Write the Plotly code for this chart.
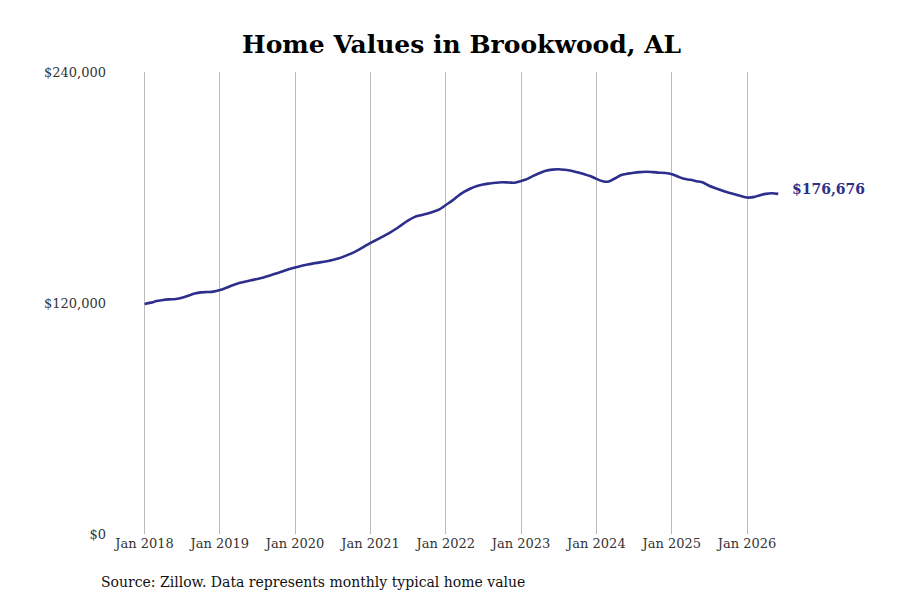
import plotly.graph_objects as go
import pandas as pd

# monthly typical home value, Jan 2018 .. Jun 2026
months = pd.date_range("2018-01-01", "2026-06-01", freq="MS")
values = [
    119500, 120200, 121000, 121600, 121900, 122100, 122700, 123800, 124900, 125500, 125700, 125900,
    126700, 127900, 129100, 130200, 131000, 131800, 132500, 133300, 134300, 135300, 136400, 137500,
    138500, 139300, 140000, 140600, 141100, 141700, 142300, 143200, 144500, 145800, 147500, 149300,
    151200, 152900, 154500, 156300, 158300, 160600, 162800, 164600, 165600, 166400, 167400, 168600,
    170900, 173200, 175600, 177800, 179500, 180800, 181600, 182100, 182500, 182700, 182600, 182500,
    183400, 184500, 186000, 187500, 188700, 189300, 189500, 189200, 188700, 187900, 187000, 186000,
    184500, 183300, 183100, 184800, 186500, 187200, 187700, 188000, 188200, 188000, 187700, 187500,
    186900, 185600, 184500, 184000, 183300, 182600, 180900, 179600, 178400, 177400, 176500, 175600,
    174800, 175000, 175900, 176700, 177000, 176676,
]
tick_dates = pd.date_range("2018-01-01", "2026-01-01", freq="YS")
tick_text = [d.strftime("Jan %Y") for d in tick_dates]
y_ticks = [0, 120000, 240000]
y_text = ["$0", "$120,000", "$240,000"]

line_color = "#2e2e8c"
font_family = "DejaVu Serif"

fig = go.Figure()
fig.add_trace(go.Scatter(
    x=months, y=values, mode="lines",
    line=dict(color=line_color, width=2.6, shape="spline"),
    showlegend=False, hoverinfo="skip",
))

# end label
fig.add_annotation(
    x=months[-1], y=values[-1], text="<b>$%s</b>" % format(values[-1], ","),
    showarrow=False, xanchor="left", xshift=12, yshift=5,
    font=dict(family=font_family, size=14, color=line_color),
)

fig.add_annotation(
    x=0, y=0, xref="paper", yref="paper", xanchor="left", yanchor="top",
    text="Source: Zillow. Data represents monthly typical home value",
    showarrow=False, xshift=-14, yshift=-38,
    font=dict(family=font_family, size=14, color="#111111"),
)

fig.update_layout(
    width=900, height=600,
    paper_bgcolor="white", plot_bgcolor="white",
    margin=dict(l=105, r=92, t=64, b=74),
    title=dict(text="<b>Home Values in Brookwood, AL</b>", x=0.504, xanchor="center",
               y=0.94, yanchor="middle",
               font=dict(family=font_family, size=25, color="black")),
    font=dict(family=font_family, size=13, color="#333333"),
    xaxis=dict(
        range=["2017-08-01", "2026-12-01"],
        tickvals=tick_dates, ticktext=tick_text,
        showgrid=True, gridcolor="#bbbbbb", gridwidth=1,
        showline=False, zeroline=False, ticks="",
    ),
    yaxis=dict(
        range=[0, 240000], tickvals=y_ticks, ticktext=y_text,
        showgrid=False, zeroline=False, showline=False, ticks="",
        ticklabelstandoff=6,
    ),
)

fig.write_html("out.html")
